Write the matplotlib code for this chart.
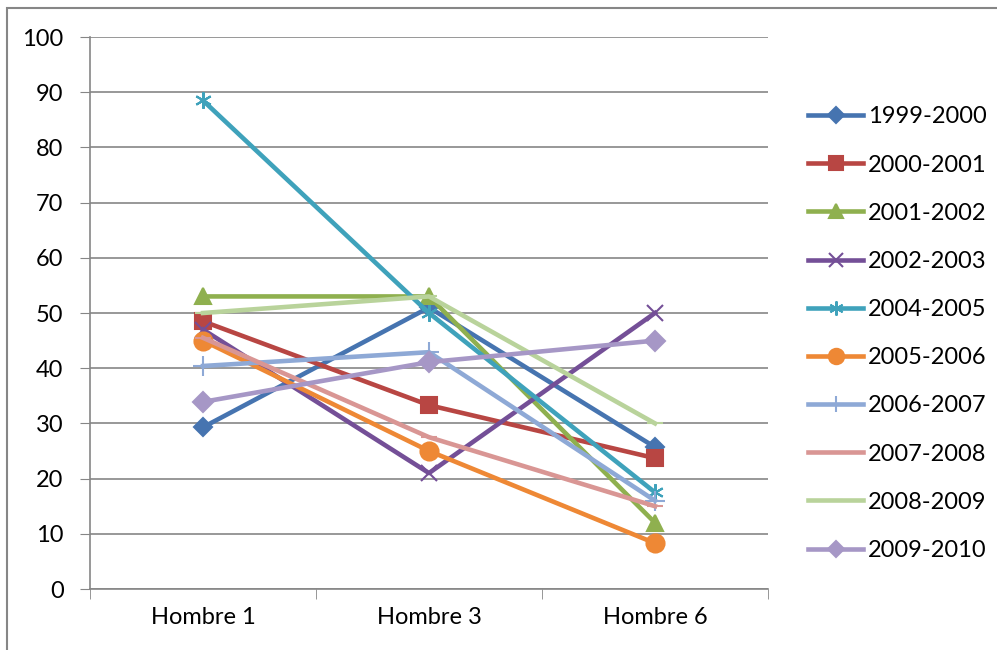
import matplotlib
matplotlib.use("Agg")
import matplotlib.pyplot as plt
from matplotlib.patches import Rectangle

plt.rcParams['font.family'] = ['Lato', 'DejaVu Sans']

categories = ['Hombre 1', 'Hombre 3', 'Hombre 6']
seasons = ['1999-2000', '2000-2001', '2001-2002', '2002-2003', '2004-2005',
           '2005-2006', '2006-2007', '2007-2008', '2008-2009', '2009-2010']
s1999 = [29.3, 51.0, 25.7]
s2000 = [48.5, 33.3, 23.7]
s2001 = [53.0, 53.0, 12.0]
s2002 = [47.0, 21.0, 50.0]
s2004 = [88.5, 50.0, 17.5]
s2005 = [45.0, 25.0, 8.3]
s2006 = [40.4, 42.9, 16.0]
s2007 = [45.5, 27.5, 15.0]
s2008 = [50.0, 53.0, 30.0]
s2009 = [33.9, 41.1, 45.0]
values = [s1999, s2000, s2001, s2002, s2004, s2005, s2006, s2007, s2008, s2009]

colors = ['#4674B0', '#B84643', '#8FB04F', '#744F97', '#3FA2BB',
          '#EE8835', '#8EA9D6', '#D99694', '#B9D39B', '#A697C6']
markers = ['D', 's', '^', 'x', (6, 2, 0), 'o', '+', '_', '_', 'D']
msizes = [9, 12, 12, 12, 12, 13, 14, 12, 12, 10]

fig = plt.figure(figsize=(9.97, 6.5), dpi=100)
ax = fig.add_axes([90 / 997, 61 / 650, 678 / 997, 552 / 650])

x = range(len(categories))
for vals, lab, c, m, ms in zip(values, seasons, colors, markers, msizes):
    ax.plot(x, vals, color=c, lw=3.3, marker=m, markersize=ms,
            markeredgecolor=c, markerfacecolor=c, markeredgewidth=1.5,
            label=lab, zorder=3)

ax.set_xlim(-0.5, 2.5)
ax.set_ylim(0, 100)
ax.set_yticks(range(0, 101, 10))
ax.set_xticks(list(x))
ax.set_xticklabels(categories)
ax.set_xticks([-0.5, 0.5, 1.5, 2.5], minor=True)
ax.tick_params(axis='x', which='major', length=0, pad=13, labelsize=17)
ax.tick_params(axis='x', which='minor', length=7, color='#868686', direction='out')
ax.tick_params(axis='y', length=7, color='#868686', labelsize=17, pad=12)
ax.grid(axis='y', color='#868686', lw=1.2)
ax.set_axisbelow(True)
for side in ['top', 'right']:
    ax.spines[side].set_visible(False)
for side in ['left', 'bottom']:
    ax.spines[side].set_color('#868686')
    ax.spines[side].set_linewidth(1.2)

handles, labels = ax.get_legend_handles_labels()
leg = fig.legend(handles, labels, loc='upper left', bbox_to_anchor=(799 / 997, 1 - 97 / 650),
                 frameon=False, fontsize=17, handlelength=2.3, handletextpad=0.22,
                 labelspacing=1.15, borderaxespad=0, markerscale=0.85)

fig.patches.append(Rectangle((7 / 997, -0.1), 1.2, 1.1 - 8 / 650, transform=fig.transFigure,
                             fill=False, edgecolor='#868686', lw=1.5))

fig.savefig('out.png', dpi=100)
